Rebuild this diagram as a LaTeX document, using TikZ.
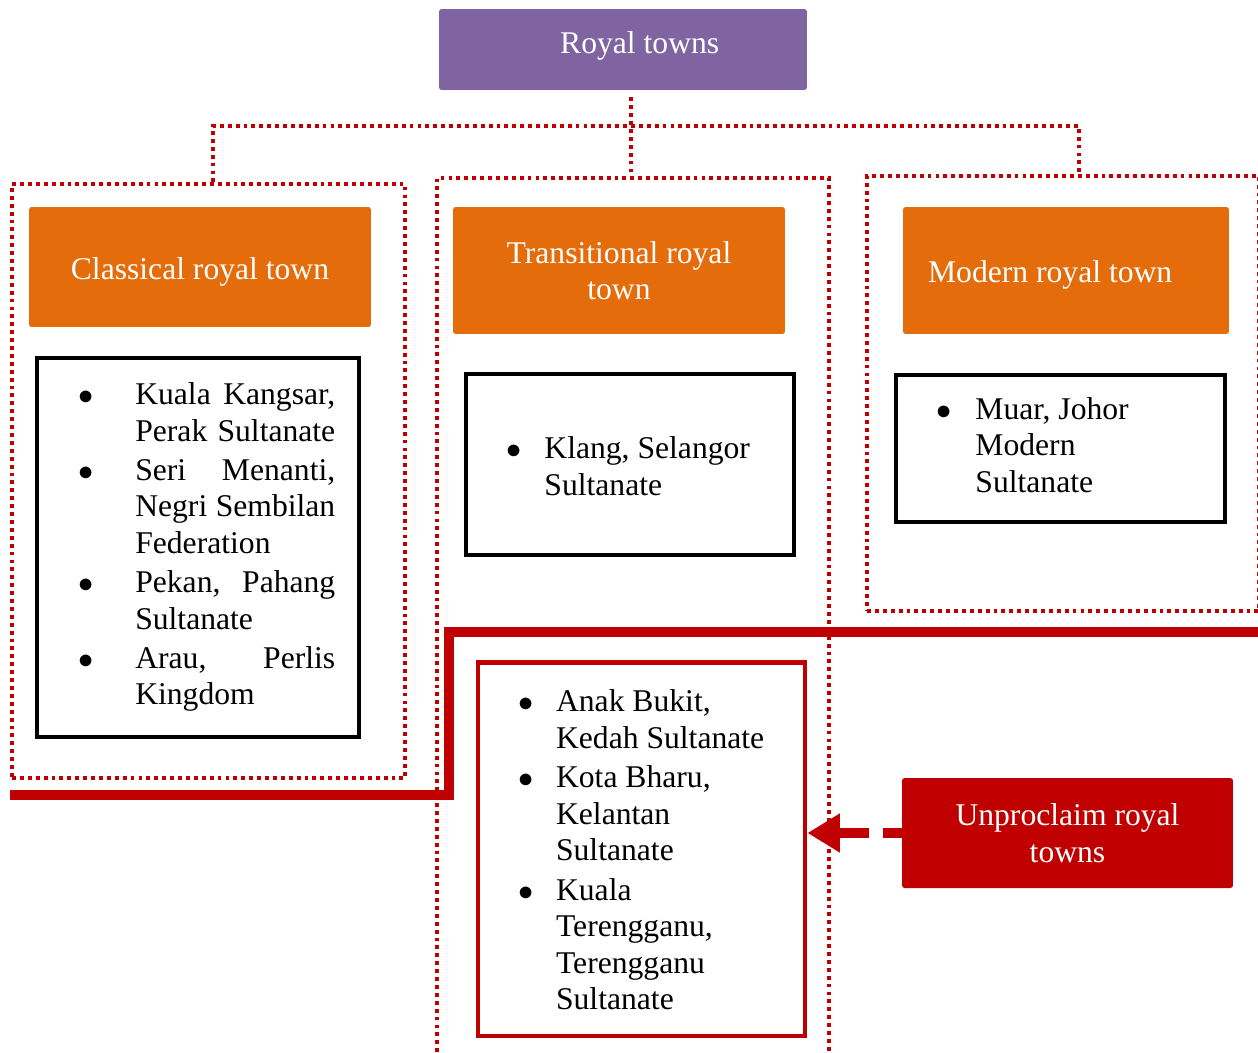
\documentclass[tikz,border=0pt]{standalone}
\usepackage{fontspec}
\setmainfont{Liberation Serif}
\usepackage{tikz}
\usetikzlibrary{arrows.meta,positioning}
\definecolor{royalpurple}{HTML}{8064A2}
\definecolor{townorange}{HTML}{E46C0A}
\definecolor{darkred}{HTML}{C00000}

\begin{document}
\begin{tikzpicture}[x=0.02cm,y=-0.02cm,font=\fontsize{18pt}{20.7pt}\selectfont,
    dotline/.style={draw=darkred,line width=2pt,dash pattern=on 2.2pt off 2.3pt},
    frame/.style={dotline,minimum width=7.84cm},
    headbox/.style={fill=royalpurple,text=white,rounded corners=1.5pt,minimum width=7.36cm,minimum height=1.62cm},
    typebox/.style={fill=townorange,text=white,align=center,rounded corners=1.5pt,minimum width=6.64cm,minimum height=2.54cm},
    listbox/.style={draw=black,line width=2.4pt},
    townlist/.style={inner sep=0pt},
    redbox/.style={fill=darkred,text=white,align=center,rounded corners=1.5pt,minimum width=6.62cm,minimum height=2.2cm},
    divider/.style={draw=darkred,line width=5.7pt},
    pointer/.style={draw=darkred,line width=6pt,-{Triangle[length=18.5pt,width=21pt]},dash pattern=on 10.8pt off 7.9pt on 40pt}]
  \useasboundingbox (0,0) rectangle (1258,1052);
  \clip (0,0) rectangle (1258,1052);

  % red dividing line
  \coordinate (cutstart) at (10,795);
  \coordinate (cutbend) at (449,795);
  \coordinate (cutend) at (1270,632);
  \draw[divider] (cutstart) -- (cutbend) |- (cutend);

  \node[headbox] (royal) at (623,49.5) {\hspace{19pt}\raisebox{2.3pt}[\height][\depth]{Royal towns}};

  \node[frame,minimum width=7.86cm,minimum height=11.88cm] (classicalframe) at (208.5,481) {};
  \node[frame,minimum height=17.84cm] (transframe) at (633,624) {};
  \node[frame,minimum height=8.7cm] (modernframe) at (1063,393.5) {};

  \coordinate (bar) at (631,126);
  \draw[dotline,shorten <=4pt] (royal.south -| bar) -- (transframe.north -| bar);
  \draw[dotline] ([xshift=2.5pt]classicalframe.north) |- (bar) -| ([xshift=9pt]modernframe.north);

  \node[typebox,minimum width=6.84cm,minimum height=2.4cm] (classical) at (200,267) {\raisebox{-2.8pt}[\height][\depth]{Classical royal town}};
  \node[typebox] (transitional) at (619,270.5) {Transitional royal\\town};
  \node[typebox,minimum width=6.52cm] (modern) at (1066,270.5) {\raisebox{-2.3pt}[\height][\depth]{Modern royal town}\hspace{18pt}};

  \node[listbox,minimum width=6.44cm,minimum height=7.58cm] (classicalbox) at (198,547.5) {};
  \node[listbox,minimum width=6.56cm,minimum height=3.62cm] (transbox) at (630,464.5) {};
  \node[listbox,minimum width=6.58cm,minimum height=2.94cm] (modernbox) at (1060.5,448.5) {};
  \node[listbox,draw=darkred,line width=2.8pt,minimum width=6.54cm,minimum height=7.48cm] (unprocbox) at (641.5,849) {};

  \node[townlist] (classicallist) [right=24.5pt of classicalbox.west] {%
    \begin{tabular}{@{}p{1.14cm}@{}p{4cm}@{}}
      $\bullet$ & Kuala\hfill Kangsar,\newline Perak\hfill Sultanate\\[1.7pt]
      $\bullet$ & Seri\hfill Menanti,\newline Negri\hfill Sembilan\newline Federation\\[1.7pt]
      $\bullet$ & Pekan,\hfill Pahang\newline Sultanate\\[1.7pt]
      $\bullet$ & Arau,\hfill Perlis\newline Kingdom
    \end{tabular}};
  \node[townlist] (translist) [right=24pt of transbox.west,yshift=-3pt] {%
    \begin{tabular}{@{}p{0.76cm}@{}p{4.6cm}@{}}
      $\bullet$ & Klang, Selangor\newline Sultanate
    \end{tabular}};
  \node[townlist] (modernlist) [right=24pt of modernbox.west] {%
    \begin{tabular}{@{}p{0.78cm}@{}p{4.6cm}@{}}
      $\bullet$ & Muar, Johor\newline Modern\newline Sultanate
    \end{tabular}};
  \node[townlist] (unproclist) [right=24pt of unprocbox.west,yshift=-2.5pt] {%
    \begin{tabular}{@{}p{0.76cm}@{}p{4.6cm}@{}}
      $\bullet$ & Anak Bukit,\newline Kedah Sultanate\\[1.9pt]
      $\bullet$ & Kota Bharu,\newline Kelantan\newline Sultanate\\[1.9pt]
      $\bullet$ & Kuala\newline Terengganu,\newline Terengganu\newline Sultanate
    \end{tabular}};

  \node[redbox] (unproclaim) at (1067.5,833) {Unproclaim royal\\towns};
  \draw[pointer] (unproclaim.west) -- (unprocbox.east |- unproclaim.west);
\end{tikzpicture}
\end{document}
